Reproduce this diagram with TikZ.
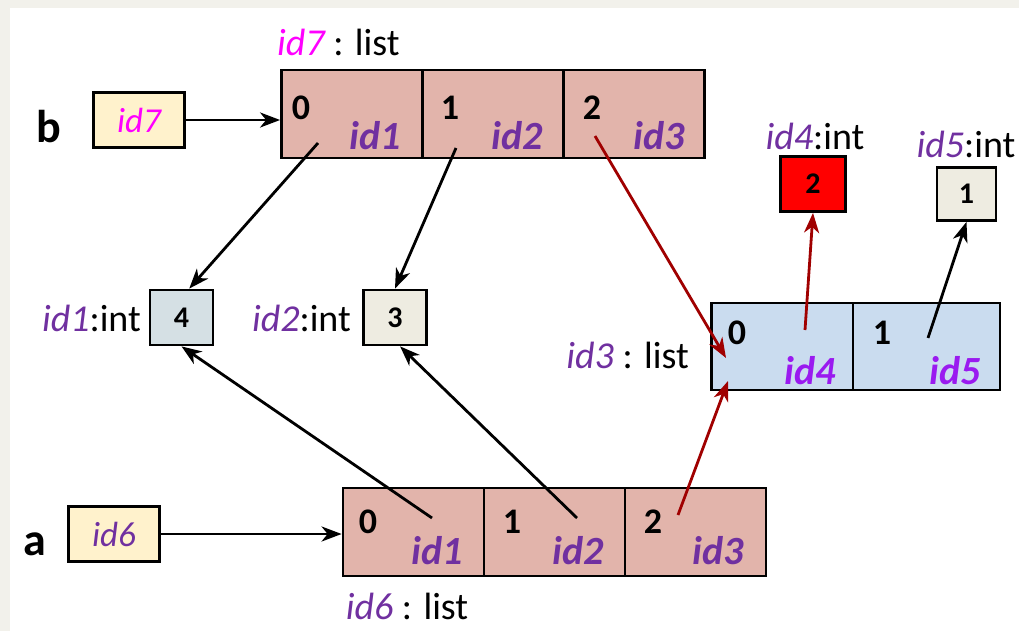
\documentclass[tikz,border=0pt]{standalone}
\usepackage{fontspec}
\setmainfont{Carlito}
\usetikzlibrary{arrows.meta}
\definecolor{bgout}{HTML}{F2F1EB}
\definecolor{cellpink}{HTML}{E2B4AB}
\definecolor{cellblue}{HTML}{CADCEF}
\definecolor{yel}{HTML}{FFF2CC}
\definecolor{purp}{HTML}{7030A0}
\definecolor{vio}{HTML}{9A1AF0}
\definecolor{mag}{HTML}{FF00FF}
\definecolor{dred}{HTML}{A00000}
\definecolor{gbox}{HTML}{D5E0E4}
\definecolor{beige}{HTML}{EEECE1}
\tikzset{
  cellbox/.style={draw, line width=2.8pt, fill=cellpink, minimum width=141pt, minimum height=88pt, inner sep=0pt},
  bluecell/.style={cellbox, fill=cellblue, minimum width=143pt, minimum height=87pt},
  varbox/.style={draw, line width=2.8pt, fill=yel, minimum width=91pt, minimum height=55pt, inner sep=0pt},
  intbox/.style={draw, line width=2.8pt, minimum width=63pt, minimum height=55pt, inner sep=0pt, font=\fontsize{30}{36}\selectfont\bfseries},
  idx/.style={inner sep=0pt, font=\fontsize{36}{42}\selectfont\bfseries},
  idt/.style={inner sep=0pt, font=\fontsize{40}{46}\selectfont\bfseries\itshape, text=purp},
  lbl/.style={inner sep=0pt, font=\fontsize{38}{46}\selectfont},
  big/.style={inner sep=0pt, font=\fontsize{46}{52}\selectfont\bfseries},
  arr/.style={line width=2.8pt, -{Stealth[length=20pt,width=15pt,inset=6pt]}},
  redarr/.style={arr, draw=dred},
}
\begin{document}
\begin{tikzpicture}[x=1pt,y=-1pt]
\useasboundingbox (0,0) rectangle (1019,631);
\fill[bgout] (0,0) rectangle (1019,631);
\fill[white] (10,8) rectangle (1019,631);

% variable b
\node[big] (bname) at (49,127) {b};
\node[varbox] (bvar) at (139,120) {\fontsize{35}{42}\selectfont\itshape\color{mag}id7};
\node[lbl, anchor=west] (id7lab) at (277,42) {\textcolor{mag}{\itshape id7} : list};

% top list id7
\node[cellbox] (b0) at (352,114) {};
\node[cellbox] (b1) at (493,114) {};
\node[cellbox] (b2) at (634,114) {};
\node[idx] (b0i) at (301,108) {0};
\node[idt] (b0t) at (375,136) {id1};
\node[idx] (b1i) at (450,108) {1};
\node[idt] (b1t) at (517,136) {id2};
\node[idx] (b2i) at (592,108) {2};
\node[idt] (b2t) at (659,136) {id3};
\coordinate (b0p) at (318,143);
\coordinate (b1p) at (456,148);
\coordinate (b2p) at (595,136);

% ints
\node[intbox, fill=gbox] (i1) at (181.5,317.5) {4};
\node[lbl, anchor=east] (i1lab) at (141,318) {\textcolor{purp}{\itshape id1}:int};
\node[intbox, fill=beige] (i2) at (395,317.5) {3};
\node[lbl, anchor=east] (i2lab) at (351,318) {\textcolor{purp}{\itshape id2}:int};
\node[intbox, fill=red, minimum width=65pt] (i4) at (813,184) {2};
\node[lbl] (i4lab) at (815,136) {\textcolor{purp}{\itshape id4}:int};
\node[intbox, fill=beige, minimum width=59pt, minimum height=53pt] (i5) at (966.5,194) {1};
\node[lbl] (i5lab) at (966,144) {\textcolor{purp}{\itshape id5}:int};

% list id3
\node[bluecell] (c0) at (783,346.5) {};
\node[bluecell, minimum width=147pt] (c1) at (926.5,346.5) {};
\node[idx] (c0i) at (737,333) {0};
\node[idt, text=vio] (c0t) at (810,371) {id4};
\node[idx] (c1i) at (882,333) {1};
\node[idt, text=vio] (c1t) at (955,371) {id5};
\node[lbl, anchor=east] (id3lab) at (689,355) {\textcolor{purp}{\itshape id3} : list};
\coordinate (c0p) at (805,330);
\coordinate (c1p) at (928,338);
\coordinate (c0in1) at (726,358);
\coordinate (c0in2) at (728,381);

% variable a
\node[big] (aname) at (35,544) {a};
\node[varbox] (avar) at (114,534) {\fontsize{35}{42}\selectfont\itshape\color{purp}id6};

% bottom list id6
\node[cellbox] (a0) at (413.5,532) {};
\node[cellbox] (a1) at (554.5,532) {};
\node[cellbox] (a2) at (695.5,532) {};
\node[idx] (a0i) at (368,522) {0};
\node[idt] (a0t) at (437,551) {id1};
\node[idx] (a1i) at (512,522) {1};
\node[idt] (a1t) at (578,551) {id2};
\node[idx] (a2i) at (653,522) {2};
\node[idt] (a2t) at (718,551) {id3};
\node[lbl] (id6lab) at (407,606) {\textcolor{purp}{\itshape id6} : list};
\coordinate (a0p) at (432,518);
\coordinate (a1p) at (577,518);
\coordinate (a2p) at (678,515);

% connectors
\draw[arr] (bvar.east) -- (bvar.east -| b0.west);
\draw[arr] (avar.east) -- (avar.east -| a0.west);
\draw[arr] (b0p) -- (i1.75);
\draw[arr] (b1p) -- (i2.north);
\draw[arr] (a0p) -- (i1.south);
\draw[arr] (a1p) -- (i2.-80);
\draw[redarr] (b2p) -- (c0in1);
\draw[redarr] (a2p) -- (c0in2);
\draw[redarr] (c0p) -- (i4.south);
\draw[arr] (c1p) -- (i5.south);
\end{tikzpicture}
\end{document}
